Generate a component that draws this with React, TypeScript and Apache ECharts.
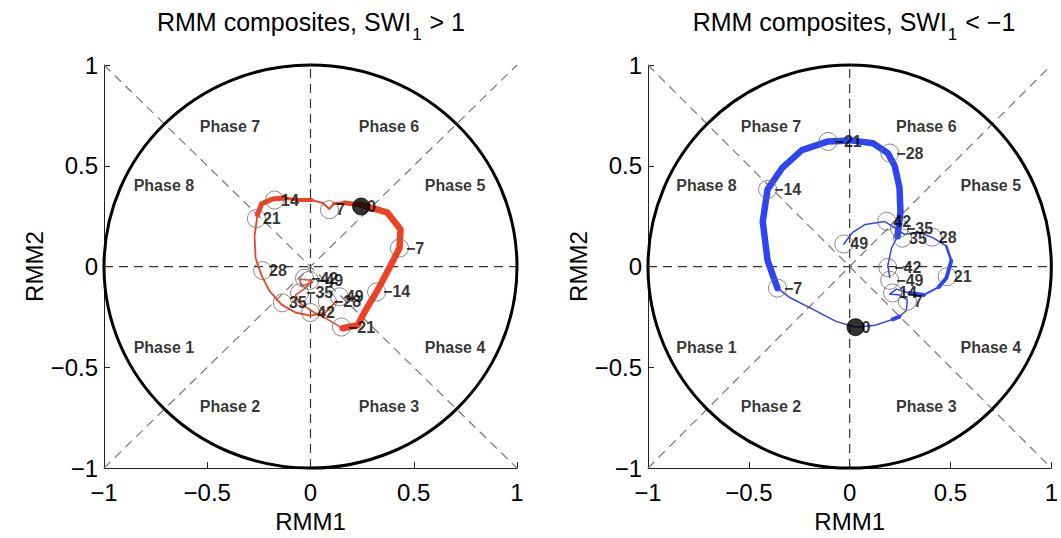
import React, { useEffect, useRef } from "react";
import * as echarts from "echarts";

const FONT = "'Liberation Sans', Arial, Helvetica, sans-serif";

// Axis ticks
const axisMin = -1;
const axisMax = 1;
const axisStep = 0.5;

// Phase labels (data coordinates)
const phaseNames = ["Phase 1", "Phase 2", "Phase 3", "Phase 4", "Phase 5", "Phase 6", "Phase 7", "Phase 8"];
const phaseX = [-0.71, -0.39, 0.38, 0.7, 0.7, 0.38, -0.39, -0.71];
const phaseY = [-0.403, -0.694, -0.694, -0.403, 0.403, 0.694, 0.694, 0.403];

// Lags shown as circles
const lags = [-49, -42, -35, -28, -21, -14, -7, 0, 7, 14, 21, 28, 35, 42, 49];

// ---- Left panel: SWI1 > 1 ----
const leftLagX = [-0.005, -0.029, -0.053, 0.082, 0.15, 0.32, 0.431, 0.245, 0.092, -0.174, -0.262, -0.232, -0.136, 0.0, 0.14];
const leftLagY = [-0.068, -0.058, -0.131, -0.175, -0.3, -0.126, 0.092, 0.298, 0.282, 0.33, 0.238, -0.02, -0.18, -0.228, -0.15];

const leftPathX = [0.01, -0.044, -0.053, 0.005, -0.024, -0.073, -0.053, 0.019, 0.082, 0.155, 0.228, 0.266, 0.32, 0.383, 0.431, 0.436, 0.373, 0.247, 0.165, 0.111, 0.092, 0.058, 0.005, -0.063, -0.126, -0.184, -0.237, -0.257, -0.271, -0.266, -0.237, -0.199, -0.14, -0.073, 0.0, 0.073, 0.126];
const leftPathY = [-0.078, -0.097, -0.063, -0.068, -0.107, -0.141, -0.18, -0.228, -0.262, -0.306, -0.291, -0.218, -0.126, -0.005, 0.092, 0.184, 0.267, 0.306, 0.316, 0.311, 0.286, 0.316, 0.33, 0.33, 0.34, 0.335, 0.311, 0.257, 0.15, 0.044, -0.044, -0.121, -0.189, -0.228, -0.243, -0.228, -0.17];
const leftPathW = [1.5, 1.5, 1.5, 1.5, 1.5, 1.5, 1.5, 1.5, 1.5, 6.5, 6.5, 6.5, 6.5, 6.5, 6.5, 6.5, 6.5, 5, 3, 2, 2, 2, 4, 3, 5, 5, 5, 1.8, 1.8, 1.8, 1.8, 1.8, 1.8, 1.8, 1.8, 1.8];

// ---- Right panel: SWI1 < -1 ----
const rightLagX = [0.199, 0.189, 0.247, 0.199, -0.107, -0.407, -0.358, 0.029, 0.286, 0.213, 0.484, 0.41, 0.262, 0.184, -0.029];
const rightLagY = [-0.068, -0.005, 0.19, 0.563, 0.621, 0.383, -0.107, -0.301, -0.172, -0.131, -0.05, 0.146, 0.141, 0.225, 0.112];

const rightPathX = [0.199, 0.189, 0.208, 0.237, 0.252, 0.247, 0.223, 0.189, 0.116, 0.005, -0.107, -0.237, -0.334, -0.407, -0.431, -0.407, -0.358, -0.295, -0.189, -0.068, 0.029, 0.126, 0.213, 0.247, 0.281, 0.286, 0.247, 0.199, 0.232, 0.295, 0.368, 0.441, 0.479, 0.504, 0.479, 0.416, 0.344, 0.271, 0.213, 0.174, 0.077, 0.015, -0.029];
const rightPathY = [-0.053, 0.005, 0.092, 0.15, 0.272, 0.393, 0.5, 0.563, 0.612, 0.626, 0.621, 0.578, 0.49, 0.383, 0.223, 0.029, -0.107, -0.155, -0.209, -0.272, -0.301, -0.291, -0.262, -0.248, -0.218, -0.165, -0.141, -0.136, -0.112, -0.131, -0.141, -0.102, -0.058, 0.029, 0.102, 0.141, 0.17, 0.16, 0.199, 0.223, 0.209, 0.17, 0.112];
const rightPathW = [1.5, 1.5, 1.5, 6.5, 6.5, 6.5, 6.5, 6.5, 6.5, 6.5, 6.5, 6.5, 6.5, 6.5, 6.5, 6.5, 1.5, 1.5, 1.5, 1.5, 1.5, 1.5, 4, 1.5, 1.5, 1.5, 1.5, 1.5, 1.5, 4, 2, 4, 4, 2.5, 1.5, 1.5, 1.5, 1.5, 1.5, 1.5, 1.5, 1.5];

const RED = "#ee4225";
const BLUE = "#2f45f0";

function fmtNum(v: number): string {
  if (v === 0) return "0";
  return v < 0 ? "\u2212" + Math.abs(v) : String(v);
}

function pathSeries(xs: number[], ys: number[], ws: number[], color: string, idx: number) {
  const out: any[] = [];
  let i = 0;
  while (i < xs.length - 1) {
    const w = ws[i];
    const data: number[][] = [[xs[i], ys[i]]];
    let j = i;
    while (j < xs.length - 1 && ws[j] === w) {
      data.push([xs[j + 1], ys[j + 1]]);
      j++;
    }
    out.push({
      type: "line",
      xAxisIndex: idx,
      yAxisIndex: idx,
      data,
      symbol: "none",
      silent: true,
      z: 4,
      lineStyle: { color, width: w, cap: "round", join: "round" },
    });
    i = j;
  }
  return out;
}

function refSeries(idx: number) {
  const hv = [
    [[axisMin, 0], [axisMax, 0]],
    [[0, axisMin], [0, axisMax]],
  ];
  const diag = [
    [[axisMin, axisMin], [axisMax, axisMax]],
    [[axisMin, axisMax], [axisMax, axisMin]],
  ];
  const s: any[] = [];
  hv.forEach((d) =>
    s.push({
      type: "line", xAxisIndex: idx, yAxisIndex: idx, data: d, symbol: "none", silent: true, z: 1,
      lineStyle: { color: "#333", width: 1.2, type: [9, 6] },
    })
  );
  diag.forEach((d) =>
    s.push({
      type: "line", xAxisIndex: idx, yAxisIndex: idx, data: d, symbol: "none", silent: true, z: 1,
      lineStyle: { color: "#777", width: 1.2, type: [9, 6] },
    })
  );
  s.push({
    type: "custom",
    xAxisIndex: idx,
    yAxisIndex: idx,
    silent: true,
    z: 2,
    data: [[0, 0, 1]],
    renderItem: (params: any, api: any) => {
      const c = api.coord([api.value(0), api.value(1)]);
      const sz = api.size([api.value(2), api.value(2)]);
      return {
        type: "ellipse",
        shape: { cx: c[0], cy: c[1], rx: sz[0], ry: sz[1] },
        style: { fill: "none", stroke: "#000", lineWidth: 3 },
      };
    },
  });
  s.push({
    type: "scatter",
    xAxisIndex: idx,
    yAxisIndex: idx,
    silent: true,
    z: 3,
    symbolSize: 1,
    itemStyle: { color: "rgba(0,0,0,0)" },
    data: phaseNames.map((n, i) => ({ name: n, value: [phaseX[i], phaseY[i]] })),
    label: {
      show: true,
      position: "inside",
      formatter: "{b}",
      fontFamily: FONT,
      fontWeight: "bold",
      fontSize: 16,
      color: "#000",
      textBorderWidth: 0,
    },
  });
  return s;
}

function markerSeries(xs: number[], ys: number[], idx: number) {
  return {
    type: "scatter",
    xAxisIndex: idx,
    yAxisIndex: idx,
    silent: true,
    z: 5,
    data: lags.map((lag, i) => ({
      name: fmtNum(lag),
      value: [xs[i], ys[i]],
      symbolSize: lag === 0 ? 17 : 18,
      itemStyle:
        lag === 0
          ? { color: "#000", borderColor: "#000", borderWidth: 1 }
          : { color: "rgba(0,0,0,0)", borderColor: "#6a6a6a", borderWidth: 1 },
    })),
    label: {
      show: true,
      position: "right",
      distance: -3,
      formatter: "{b}",
      fontFamily: FONT,
      fontWeight: "bold",
      fontSize: 16,
      color: "#000",
    },
  };
}

function axisCommon(idx: number, name: string, isY: boolean) {
  return {
    type: "value",
    gridIndex: idx,
    min: axisMin,
    max: axisMax,
    interval: axisStep,
    name,
    nameLocation: "middle",
    nameGap: isY ? 52 : 37,
    nameTextStyle: { fontFamily: FONT, fontSize: 24, color: "#000" },
    axisLine: { show: true, onZero: false, lineStyle: { color: "#222", width: 1 } },
    axisTick: { show: true, inside: true, length: 6, lineStyle: { color: "#222" } },
    axisLabel: {
      fontFamily: FONT,
      fontSize: 24,
      color: "#000",
      margin: isY ? 6 : 12,
      formatter: (v: number) => fmtNum(v),
    },
    splitLine: { show: false },
  };
}

function titleText(rel: string) {
  return "{a|RMM composites, SWI}{s|1}{a|" + rel + "}";
}

const titleRich = {
  a: { fontFamily: FONT, fontSize: 25, fontWeight: "normal", color: "#000", lineHeight: 30 },
  s: { fontFamily: FONT, fontSize: 17, fontWeight: "normal", color: "#000", padding: [26, 1, 0, 1] },
};

export default function App() {
  const ref = useRef<HTMLDivElement>(null);
  useEffect(() => {
    if (!ref.current) return;
    const chart = echarts.init(ref.current, undefined, { renderer: "svg" });
    const option: any = {
      animation: false,
      backgroundColor: "#fff",
      textStyle: { fontFamily: FONT },
      title: [
        {
          text: titleText(" > 1"),
          left: 311,
          top: 0,
          padding: 0,
          textAlign: "center",
          textStyle: { fontWeight: "normal", fontSize: 25, rich: titleRich },
        },
        {
          text: titleText(" < \u22121"),
          left: 854,
          top: 0,
          padding: 0,
          textAlign: "center",
          textStyle: { fontWeight: "normal", fontSize: 25, rich: titleRich },
        },
      ],
      grid: [
        { left: 104, top: 65, width: 413, height: 412 },
        { left: 648, top: 65, width: 413, height: 412 },
      ],
      xAxis: [axisCommon(0, "RMM1", false), axisCommon(1, "RMM1", false)],
      yAxis: [axisCommon(0, "RMM2", true), axisCommon(1, "RMM2", true)],
      series: [
        ...refSeries(0),
        ...refSeries(1),
        ...pathSeries(leftPathX, leftPathY, leftPathW, RED, 0),
        ...pathSeries(rightPathX, rightPathY, rightPathW, BLUE, 1),
        markerSeries(leftLagX, leftLagY, 0),
        markerSeries(rightLagX, rightLagY, 1),
      ],
    };
    chart.setOption(option);
    return () => chart.dispose();
  }, []);
  return (
    <div
      ref={ref}
      style={{ position: "fixed", left: 0, top: 0, width: 1061, height: 538, background: "#fff" }}
    />
  );
}
